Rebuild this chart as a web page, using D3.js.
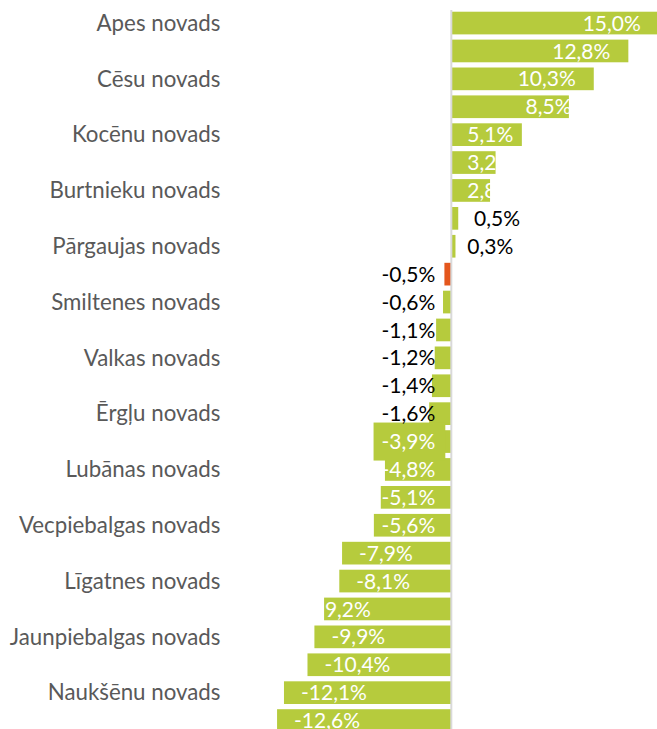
<!DOCTYPE html>
<html>
<head>
<meta charset="utf-8">
<script src="https://cdn.jsdelivr.net/npm/d3@7"></script>
<style>
  html, body { margin: 0; padding: 0; background: #ffffff; }
  svg { display: block; }
</style>
</head>
<body>
<svg id="chart" width="657" height="729"></svg>
<script>
// Population change by municipality, % (top to bottom).
// Only every other category name is printed on the axis.
const categories = [
  "Apes novads", "",
  "Cēsu novads", "",
  "Kocēnu novads", "",
  "Burtnieku novads", "",
  "Pārgaujas novads", "",
  "Smiltenes novads", "",
  "Valkas novads", "",
  "Ērgļu novads", "",
  "Lubānas novads", "",
  "Vecpiebalgas novads", "",
  "Līgatnes novads", "",
  "Jaunpiebalgas novads", "",
  "Naukšēnu novads", ""
];
const values = [
  15.0, 12.8, 10.3, 8.5, 5.1, 3.2, 2.8, 0.5, 0.3,
  -0.5, -0.6, -1.1, -1.2, -1.4, -1.6, -3.9, -4.8, -5.1,
  -5.6, -7.9, -8.1, -9.2, -9.9, -10.4, -12.1, -12.6
];
// Position of the highlighted (orange) bar
const highlightIndex = 9;

const green = "#b6cb3d";
const orange = "#e4571d";
const fontFamily = "Lato, 'Open Sans', sans-serif";

const svg = d3.select("#chart");

const x = d3.scaleLinear()
  .domain([-14, 16])
  .range([257.7, 672.6]);

const idx = d3.range(values.length);
const y = d3.scaleBand()
  .domain(idx)
  .range([9.1, 9.1 + 27.9 * values.length])
  .paddingInner(0.187)
  .paddingOuter(0.0935);

const zero = x(0);

// Bars
svg.append("g")
  .selectAll("rect")
  .data(idx)
  .join("rect")
  .attr("x", i => Math.min(x(values[i]), zero))
  .attr("y", i => y(i))
  .attr("width", i => Math.abs(x(values[i]) - zero))
  .attr("height", y.bandwidth())
  .attr("fill", i => i === highlightIndex ? orange : green);

// Category axis: only the named categories get a tick label
const yAxis = d3.axisLeft(y)
  .tickValues(idx.filter(i => categories[i] !== ""))
  .tickFormat(i => categories[i])
  .tickSize(0)
  .tickPadding(0);

const axisG = svg.append("g")
  .attr("transform", "translate(220.5,0)")
  .call(yAxis);
axisG.select(".domain").remove();
axisG.selectAll("text")
  .attr("fill", "#595959")
  .attr("font-family", fontFamily)
  .attr("font-size", 22.3)
  .attr("dy", "0.35em");

// Value labels, decimal comma and plain hyphen for negatives
const fmt = v => d3.format(".1f")(v).replace("\u2212", "-").replace(".", ",") + "%";
const labelShift = { 3: 20.7, 7: 6.7, 21: -24 };
const boxed = new Set([15]);
const gap = 16;

const labelG = svg.append("g");
idx.forEach(i => {
  const v = values[i];
  const dark = Math.abs(v) < 2;
  const t = labelG.append("text")
    .attr("font-family", fontFamily)
    .attr("font-size", 21)
    .attr("fill", dark ? "#000000" : "#ffffff")
    .attr("y", y(i) + y.bandwidth() / 2)
    .attr("dy", "0.36em")
    .text(fmt(v));
  const w = t.node().getComputedTextLength();
  let left;
  if (v >= 0) {
    if (dark) left = zero + gap;
    else left = Math.max(x(v) - 18 - w, zero + gap);
  } else {
    if (dark) left = zero - gap - w;
    else left = Math.min(x(v) + 17, zero - gap - w);
  }
  left += labelShift[i] || 0;
  t.attr("x", left);
  if (boxed.has(i)) {
    const cy = y(i) + y.bandwidth() / 2;
    labelG.insert("rect", "text")
      .attr("x", left - 8)
      .attr("y", cy - 19)
      .attr("width", w + 18)
      .attr("height", 38)
      .attr("fill", green);
  }
});
// keep boxed label text above its box
labelG.selectAll("text").raise();

// Zero line
svg.append("line")
  .attr("x1", zero).attr("x2", zero)
  .attr("y1", 10).attr("y2", 729)
  .attr("stroke", "#d9d9d9")
  .attr("stroke-width", 2);
</script>
</body>
</html>
